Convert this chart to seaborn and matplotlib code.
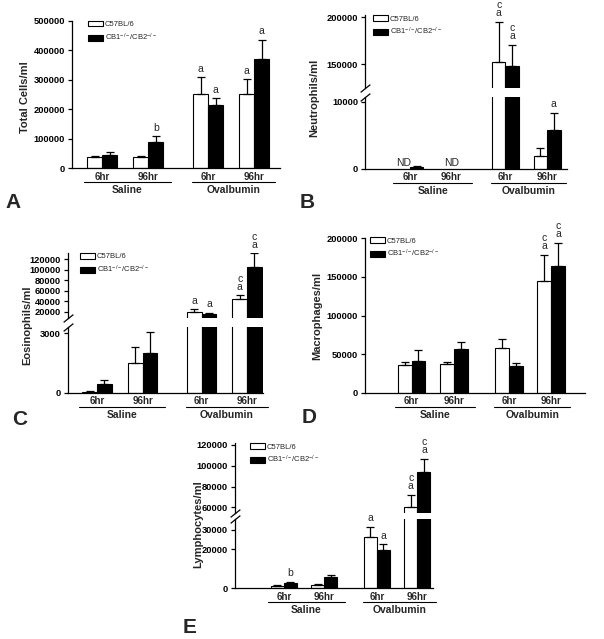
import numpy as np
import pandas as pd
import matplotlib
matplotlib.use("Agg")
import matplotlib.pyplot as plt
import matplotlib.transforms as mtransforms
from matplotlib.patches import Patch
import seaborn as sns

conditions = ["Saline 6hr", "Saline 96hr", "Ovalbumin 6hr", "Ovalbumin 96hr"]
times = ["6hr", "96hr", "6hr", "96hr"]
groups = ["Saline", "Ovalbumin"]
strains = ["C57BL/6", "CB1-/-/CB2-/-"]
legend_labels = ["C57BL/6", r"CB1$^{-/-}$/CB2$^{-/-}$"]

# A - total cells
total_wt = [37000, 38500, 251700, 250500]
total_wt_sem = [5000, 4500, 56300, 51500]
total_ko = [45000, 88000, 213500, 371000]
total_ko_sem = [11400, 21500, 23500, 64500]
total_wt_sig = ["", "", "a", "a"]
total_ko_sig = ["", "b", "a", "a"]

# B - neutrophils (nan = not detected)
neut_wt = [np.nan, np.nan, 151800, 1930]
neut_wt_sem = [np.nan, np.nan, 43600, 1240]
neut_ko = [300, np.nan, 147500, 5790]
neut_ko_sem = [150, np.nan, 23200, 2580]
neut_wt_sig = ["", "", "c\na", ""]
neut_ko_sig = ["", "", "c\na", "a"]

# C - eosinophils
eos_wt = [40, 1500, 18900, 43500]
eos_wt_sem = [20, 780, 5600, 8200]
eos_ko = [410, 2000, 15600, 105400]
eos_ko_sem = [220, 1060, 2500, 25400]
eos_wt_sig = ["", "", "a", "c\na"]
eos_ko_sig = ["", "", "a", "c\na"]

# D - macrophages
mac_wt = [35800, 36600, 57300, 144400]
mac_wt_sem = [4200, 3400, 12100, 34500]
mac_ko = [41400, 56900, 34900, 164200]
mac_ko_sem = [13800, 9100, 3900, 30200]
mac_wt_sig = ["", "", "", "c\na"]
mac_ko_sig = ["", "", "", "c\na"]

# E - lymphocytes
lym_wt = [1200, 1700, 26600, 60600]
lym_wt_sem = [300, 500, 5100, 11300]
lym_ko = [2900, 6000, 19700, 93600]
lym_ko_sem = [500, 850, 2900, 13100]
lym_wt_sig = ["", "", "a", "c\na"]
lym_ko_sig = ["b", "", "a", "c\na"]

sns.set_theme(style="ticks")
plt.rcParams["font.family"] = ["Liberation Sans", "DejaVu Sans"]
plt.rcParams["mathtext.fontset"] = "custom"
plt.rcParams["mathtext.rm"] = "Liberation Sans"
plt.rcParams["mathtext.it"] = "Liberation Sans"
plt.rcParams["axes.linewidth"] = 0.9

# layout: where each condition sits on the x axis
slot = {"Saline 6hr": 0.0, "Saline 96hr": 1.0, "Ovalbumin 6hr": 2.3, "Ovalbumin 96hr": 3.3}
pair_w = 0.65
bar_w = pair_w / 2
colors = ["white", "black"]

W, H = 604, 639
fig = plt.figure(figsize=(W / 100, H / 100), dpi=100)


def rect(x0, x1, ytop, ybot):
    return [x0 / W, 1 - ybot / H, (x1 - x0) / W, (ybot - ytop) / H]


def below(ax, dy):
    # x in data, y at the axis line shifted down dy pixels
    return ax.get_xaxis_transform() + mtransforms.ScaledTranslation(0, -dy / 100, fig.dpi_scale_trans)


def frame(wt, ko):
    df = pd.DataFrame({
        "pos": [slot[c] for c in conditions] * 2,
        "strain": [strains[0]] * len(conditions) + [strains[1]] * len(conditions),
        "value": list(wt) + list(ko),
    })
    return df.dropna()


def draw_panel(p):
    x0, x1 = p["x"]
    ax_l = fig.add_axes(rect(x0, x1, *p["lower_y"]))
    ax_u = fig.add_axes(rect(x0, x1, *p["upper_y"])) if "upper_y" in p else None
    axes = [ax_l] if ax_u is None else [ax_u, ax_l]
    df = frame(p["wt"], p["ko"])

    for ax in axes:
        sns.barplot(data=df, x="pos", y="value", hue="strain", hue_order=strains,
                    native_scale=True, palette=colors, saturation=1, width=pair_w,
                    edgecolor="black", linewidth=0.8, errorbar=None, legend=False, ax=ax)
        sns.despine(ax=ax)
        ax.set_xlabel("")
        ax.set_ylabel("")

    series = [(p["wt"], p["wt_sem"], p["wt_sig"]), (p["ko"], p["ko_sem"], p["ko_sig"])]
    lower_top = p["lower_lim"][1]
    for h, (vals, sems, sigs) in enumerate(series):
        xs = [slot[c] + (h - 0.5) * bar_w for c in conditions]
        ok = [i for i in range(len(vals)) if not np.isnan(vals[i])]
        for ax in axes:
            ax.errorbar([xs[i] for i in ok], [vals[i] for i in ok],
                        yerr=[[0] * len(ok), [sems[i] for i in ok]], fmt="none",
                        ecolor="black", elinewidth=0.9, capsize=3, capthick=0.9, zorder=3)
        for i in ok:
            if not sigs[i]:
                continue
            top = vals[i] + sems[i]
            ax = ax_u if (ax_u is not None and top > lower_top) else ax_l
            ax.annotate(sigs[i], (xs[i], top), xytext=(0, 2.5), textcoords="offset points",
                        ha="center", va="bottom", fontsize=7.5, linespacing=0.75,
                        annotation_clip=False)

    # not detected labels
    if p.get("nd"):
        for i, c in enumerate(conditions):
            wt_nd, ko_nd = np.isnan(p["wt"][i]), np.isnan(p["ko"][i])
            if wt_nd and ko_nd:
                xnd = slot[c]
            elif wt_nd:
                xnd = slot[c] - 0.5 * bar_w
            else:
                continue
            ax_l.annotate("ND", (xnd, 0), xytext=(0, 0.5), textcoords="offset points",
                          ha="center", va="bottom", fontsize=7.5, annotation_clip=False)

    for ax, lim, ticks in [(ax_l, p["lower_lim"], p["lower_ticks"])] + (
            [(ax_u, p["upper_lim"], p["upper_ticks"])] if ax_u is not None else []):
        ax.set_xlim(p["xlim"])
        ax.set_ylim(lim)
        ax.set_yticks(ticks)
        ax.set_yticklabels([str(t) for t in ticks], fontweight="bold", fontsize=6.7)
        ax.tick_params(axis="y", length=3, width=0.9, pad=2, colors="black")
        ax.spines["left"].set_color("black")
        ax.spines["bottom"].set_color("black")

    centers = [slot[c] for c in conditions]
    ax_l.set_xticks(centers)
    ax_l.set_xticklabels(times, fontweight="bold", fontsize=7)
    ax_l.tick_params(axis="x", length=0, pad=2.5)

    if ax_u is not None:
        ax_u.spines["bottom"].set_visible(False)
        ax_u.tick_params(axis="x", bottom=False, labelbottom=False)
        kw = dict(marker=[(-1, -0.8), (1, 0.8)], markersize=7, linestyle="none",
                  color="black", mec="black", mew=0.9, clip_on=False)
        ax_u.plot([0], [0], transform=ax_u.transAxes, **kw)
        ax_l.plot([0], [1], transform=ax_l.transAxes, **kw)

    # treatment group brackets
    spans = [(centers[0] - 0.4, centers[1] + 0.5), (centers[2] - 0.35, centers[3] + 0.45)]
    for (a, b), g in zip(spans, groups):
        ax_l.plot([a, b], [0, 0], transform=below(ax_l, 14), color="black", lw=0.8, clip_on=False)
        ax_l.text((a + b) / 2, 0, g, transform=below(ax_l, 22), ha="center", va="center",
                  fontsize=7.5, fontweight="bold")

    top_ax = ax_u if ax_u is not None else ax_l
    handles = [Patch(facecolor=c, edgecolor="black", linewidth=0.8) for c in colors]
    lx, ly = p["legend_xy"]
    top_ax.legend(handles, legend_labels, loc="upper left", bbox_to_anchor=(lx / W, 1 - ly / H),
                  bbox_transform=fig.transFigure, frameon=False, fontsize=5.5,
                  handlelength=2.0, handleheight=0.8, handletextpad=0.2,
                  labelspacing=0.45, borderpad=0, borderaxespad=0)

    yx, yy = p["ylabel_xy"]
    fig.text(yx / W, 1 - yy / H, p["ylabel"], rotation=90, ha="center", va="center",
             fontsize=8, fontweight="bold")
    lx, ly = p["letter_xy"]
    fig.text(lx / W, 1 - ly / H, p["letter"], ha="left", va="baseline",
             fontsize=15, fontweight="bold")


panels = [
    dict(letter="A", letter_xy=(5, 208), ylabel="Total Cells/ml", ylabel_xy=(25, 97),
         x=(71.7, 280), xlim=(-0.66, 3.86), lower_y=(20.7, 168.3),
         lower_lim=(0, 500000), lower_ticks=[0, 100000, 200000, 300000, 400000, 500000],
         wt=total_wt, wt_sem=total_wt_sem, ko=total_ko, ko_sem=total_ko_sem,
         wt_sig=total_wt_sig, ko_sig=total_ko_sig, legend_xy=(88, 20.5)),
    dict(letter="B", letter_xy=(300, 208), ylabel="Neutrophils/ml", ylabel_xy=(314, 98),
         x=(365, 567), xlim=(-1.08, 3.78), lower_y=(96.7, 169), upper_y=(15.4, 88.3),
         lower_lim=(0, 10740), lower_ticks=[0, 10000],
         upper_lim=(124000, 202000), upper_ticks=[150000, 200000],
         wt=neut_wt, wt_sem=neut_wt_sem, ko=neut_ko, ko_sem=neut_ko_sem,
         wt_sig=neut_wt_sig, ko_sig=neut_ko_sig, legend_xy=(373, 15), nd=True),
    dict(letter="C", letter_xy=(12, 425), ylabel="Eosinophils/ml", ylabel_xy=(27, 325),
         x=(68, 263), xlim=(-0.64, 3.65), lower_y=(326.7, 392.5), upper_y=(253.3, 318.3),
         lower_lim=(0, 3320), lower_ticks=[0, 3000],
         upper_lim=(7500, 131000), upper_ticks=[20000, 40000, 60000, 80000, 100000, 120000],
         wt=eos_wt, wt_sem=eos_wt_sem, ko=eos_ko, ko_sem=eos_ko_sem,
         wt_sig=eos_wt_sig, ko_sig=eos_ko_sig, legend_xy=(80, 252.7)),
    dict(letter="D", letter_xy=(302, 423), ylabel="Macrophages/ml", ylabel_xy=(317, 316),
         x=(365, 585), xlim=(-1.10, 4.10), lower_y=(238.3, 392.7),
         lower_lim=(0, 200000), lower_ticks=[0, 50000, 100000, 150000, 200000],
         wt=mac_wt, wt_sem=mac_wt_sem, ko=mac_ko, ko_sem=mac_ko_sem,
         wt_sig=mac_wt_sig, ko_sig=mac_ko_sig, legend_xy=(370, 237)),
    dict(letter="E", letter_xy=(183, 633), ylabel="Lymphocytes/ml", ylabel_xy=(198, 524),
         x=(235, 432.7), xlim=(-1.21, 3.68), lower_y=(519.3, 588.3), upper_y=(443.3, 513.3),
         lower_lim=(0, 35500), lower_ticks=[0, 20000, 30000],
         upper_lim=(54200, 121600), upper_ticks=[60000, 80000, 100000, 120000],
         wt=lym_wt, wt_sem=lym_wt_sem, ko=lym_ko, ko_sem=lym_ko_sem,
         wt_sig=lym_wt_sig, ko_sig=lym_ko_sig, legend_xy=(250, 443)),
]

for p in panels:
    draw_panel(p)

fig.savefig("out.png", dpi=100, facecolor="white")
